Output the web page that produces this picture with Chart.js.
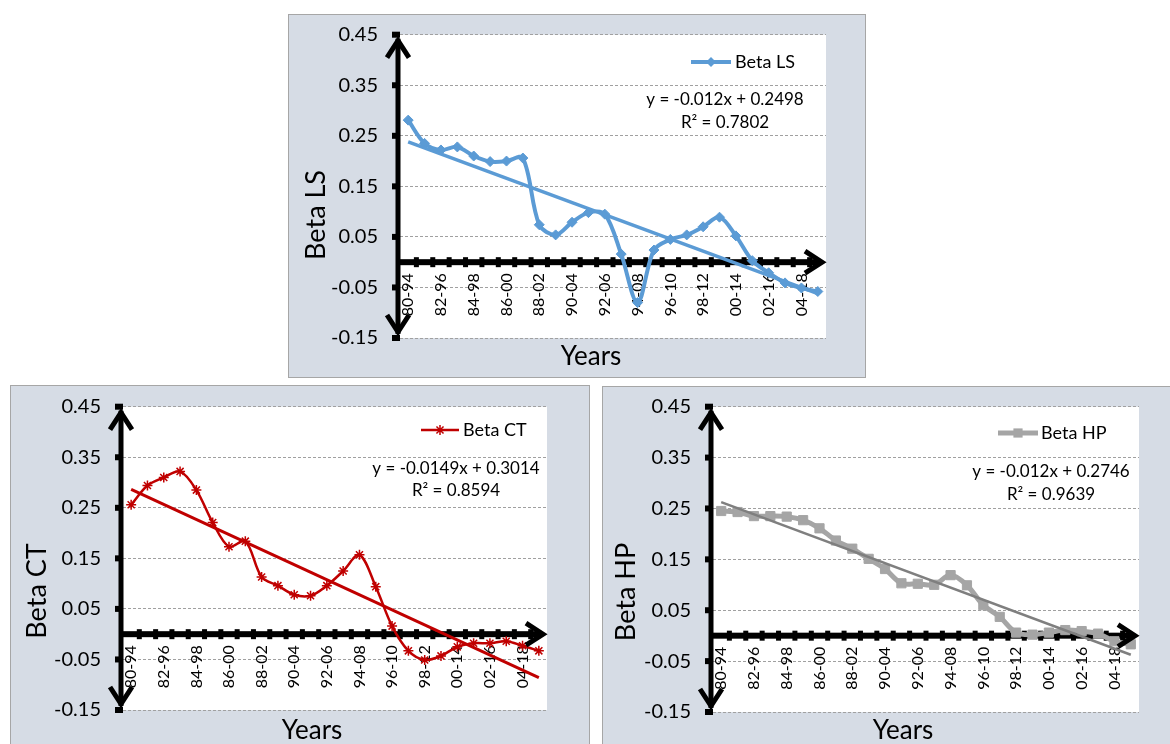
<!DOCTYPE html>
<html>
<head>
<meta charset="utf-8">
<script src="https://cdn.jsdelivr.net/npm/chart.js@4.4.0/dist/chart.umd.min.js"></script>
<style>
  html, body { margin: 0; padding: 0; background: #ffffff; width: 1170px; height: 744px; overflow: hidden; }
  .panel { position: absolute; background: #d6dce5; border: 1px solid #a6a6a6; box-sizing: border-box; }
  .panel canvas { position: absolute; left: -1px; top: -1px; }
</style>
</head>
<body>
<div class="panel" style="left:288px; top:14px; width:578px; height:364px;"><canvas id="cLS" width="578" height="364"></canvas></div>
<div class="panel" style="left:10px; top:385px; width:580px; height:365px;"><canvas id="cCT" width="580" height="365"></canvas></div>
<div class="panel" style="left:602px; top:386px; width:580px; height:365px;"><canvas id="cHP" width="580" height="365"></canvas></div>

<script>
// Rolling 15-year windows
const CATEGORIES = ['80-94','81-95','82-96','83-97','84-98','85-99','86-00','87-01','88-02','89-03',
                    '90-04','91-05','92-06','93-07','94-08','95-09','96-10','97-11','98-12','99-13',
                    '00-14','01-15','02-16','03-17','04-18','05-19'];

const Y_TICKS = [-0.15, -0.05, 0.05, 0.15, 0.25, 0.35, 0.45];

const BETA_LS = [0.281, 0.235, 0.222, 0.228, 0.210, 0.199, 0.200, 0.206, 0.074, 0.054,
                 0.079, 0.098, 0.095, 0.016, -0.080, 0.024, 0.045, 0.054, 0.070, 0.089,
                 0.052, 0.003, -0.021, -0.041, -0.051, -0.058];

const BETA_CT = [0.256, 0.294, 0.310, 0.322, 0.285, 0.221, 0.173, 0.184, 0.113, 0.096,
                 0.078, 0.076, 0.096, 0.125, 0.157, 0.094, 0.016, -0.033, -0.051, -0.043,
                 -0.025, -0.018, -0.018, -0.014, -0.023, -0.033];

const BETA_HP = [0.245, 0.243, 0.235, 0.235, 0.234, 0.227, 0.211, 0.187, 0.171, 0.151,
                 0.131, 0.103, 0.102, 0.100, 0.119, 0.099, 0.060, 0.037, 0.006, 0.002,
                 0.006, 0.011, 0.009, 0.004, -0.011, -0.017];

// Linear trendlines: [slope, intercept] with x = 1 .. 26, and their R²
const TREND_LS = [-0.012, 0.2498];
const TREND_CT = [-0.0149, 0.3014];
const TREND_HP = [-0.012, 0.2746];
const R2_LS = 0.7802;
const R2_CT = 0.8594;
const R2_HP = 0.9639;

Chart.defaults.font.family = 'Lato, "Open Sans", sans-serif';

function trendSeries(tr) {
  const n = CATEGORIES.length;
  return CATEGORIES.map((c, i) => (i === 0 || i === n - 1) ? tr[1] + tr[0] * (i + 1) : null);
}

function drawMarker(ctx, style, x, y, r, color) {
  ctx.save();
  ctx.fillStyle = color;
  ctx.strokeStyle = color;
  if (style === 'rectRot') {
    ctx.beginPath();
    ctx.moveTo(x, y - r); ctx.lineTo(x + r, y); ctx.lineTo(x, y + r); ctx.lineTo(x - r, y);
    ctx.closePath(); ctx.fill();
  } else if (style === 'rect') {
    const s = r * Math.SQRT1_2;
    ctx.fillRect(x - s, y - s, 2 * s, 2 * s);
  } else if (style === 'star') {
    ctx.lineWidth = 1.5;
    ctx.beginPath();
    for (let k = 0; k < 4; k++) {
      const a = k * Math.PI / 4;
      ctx.moveTo(x - r * Math.cos(a), y - r * Math.sin(a));
      ctx.lineTo(x + r * Math.cos(a), y + r * Math.sin(a));
    }
    ctx.stroke();
  }
  ctx.restore();
}

const PANELS = [
  { canvas: 'cLS', w: 578, h: 364, area: { left: 112, top: 20.7, right: 538, bottom: 324 },
    name: 'Beta LS', data: BETA_LS, trend: TREND_LS, r2: R2_LS,
    color: '#5b9bd5', lineWidth: 4, trendColor: '#5b9bd5', trendWidth: 3.5,
    marker: 'rectRot', markerRadius: 5,
    legend: { x0: 403, x1: 443, y: 48, tx: 447 }, eq: { x: 437, y: 86, y2: 109 },
    yTitle: { x: 28, y: 201 }, xTitle: { x: 303, y: 343 } },
  { canvas: 'cCT', w: 580, h: 365, area: { left: 113, top: 21.7, right: 537, bottom: 325 },
    name: 'Beta CT', data: BETA_CT, trend: TREND_CT, r2: R2_CT,
    color: '#c00000', lineWidth: 2.5, trendColor: '#c00000', trendWidth: 3,
    marker: 'star', markerRadius: 5,
    legend: { x0: 411, x1: 449, y: 45, tx: 453 }, eq: { x: 446, y: 84, y2: 106 },
    yTitle: { x: 27, y: 206 }, xTitle: { x: 302, y: 346 } },
  { canvas: 'cHP', w: 580, h: 365, area: { left: 111, top: 20.7, right: 537, bottom: 326 },
    name: 'Beta HP', data: BETA_HP, trend: TREND_HP, r2: R2_HP,
    color: '#a5a5a5', lineWidth: 5, trendColor: '#7f7f7f', trendWidth: 2.5,
    marker: 'rect', markerRadius: 6.5,
    legend: { x0: 396, x1: 436, y: 47, tx: 439 }, eq: { x: 449, y: 86, y2: 109 },
    yTitle: { x: 24, y: 206 }, xTitle: { x: 301, y: 345 } }
];

function makeChart(p) {
  const decor = {
    id: 'decor',
    beforeDraw(chart) {
      const { ctx, chartArea: a } = chart;
      ctx.save();
      ctx.fillStyle = '#ffffff';
      ctx.fillRect(a.left, a.top, a.right - a.left, a.bottom - a.top);
      ctx.restore();
    },
    beforeDatasetsDraw(chart) {
      const { ctx, chartArea: a } = chart;
      const xs = chart.scales.x, ys = chart.scales.y;
      const y0 = ys.getPixelForValue(0);
      const ax = a.left - 2;
      ctx.save();
      ctx.fillStyle = '#000000';
      // zero line with tick marks between categories
      ctx.fillRect(ax, y0 - 3, a.right - ax - 6, 6);
      const step = xs.getPixelForValue(1) - xs.getPixelForValue(0);
      for (let i = 1; i < CATEGORIES.length; i++) {
        const x = xs.getPixelForValue(i) - step / 2;
        ctx.fillRect(x - 2.5, y0 - 5, 5, 10);
      }
      // value axis and its tick marks
      Y_TICKS.forEach(v => {
        const y = ys.getPixelForValue(v);
        ctx.fillRect(ax - 6, y - 3, 8, 6);
      });
      ctx.fillRect(ax - 2.5, a.top + 4, 5, a.bottom - a.top - 8);
      ctx.restore();
    },
    afterDatasetsDraw(chart) {
      const { ctx, chartArea: a } = chart;
      const y0 = chart.scales.y.getPixelForValue(0);
      const ax = a.left - 2;
      ctx.save();
      ctx.strokeStyle = '#000000';
      ctx.lineWidth = 5;
      ctx.lineJoin = 'miter';
      ctx.lineCap = 'butt';
      ctx.beginPath();
      ctx.moveTo(ax - 11, a.top + 23); ctx.lineTo(ax, a.top + 6); ctx.lineTo(ax + 11, a.top + 23);
      ctx.stroke();
      ctx.beginPath();
      ctx.moveTo(ax - 11, a.bottom - 23); ctx.lineTo(ax, a.bottom - 6); ctx.lineTo(ax + 11, a.bottom - 23);
      ctx.stroke();
      ctx.beginPath();
      ctx.moveTo(a.right - 21, y0 - 11); ctx.lineTo(a.right - 4, y0); ctx.lineTo(a.right - 21, y0 + 11);
      ctx.stroke();
      ctx.restore();
    },
    afterDraw(chart) {
      const ctx = chart.ctx;
      ctx.save();
      // legend
      ctx.strokeStyle = p.color;
      ctx.lineWidth = p.lineWidth;
      ctx.beginPath();
      ctx.moveTo(p.legend.x0, p.legend.y); ctx.lineTo(p.legend.x1, p.legend.y);
      ctx.stroke();
      drawMarker(ctx, p.marker, (p.legend.x0 + p.legend.x1) / 2, p.legend.y, p.markerRadius, p.color);
      ctx.fillStyle = '#000000';
      ctx.font = '18px Lato';
      ctx.textAlign = 'left';
      ctx.textBaseline = 'middle';
      ctx.fillText(p.name, p.legend.tx, p.legend.y);
      // trendline equation
      ctx.font = '17px Lato';
      ctx.textAlign = 'center';
      ctx.fillText('y = ' + p.trend[0] + 'x + ' + p.trend[1], p.eq.x, p.eq.y);
      ctx.fillText('R\u00b2 = ' + p.r2, p.eq.x, p.eq.y2);
      // axis titles
      ctx.font = '26px Lato';
      ctx.fillText('Years', p.xTitle.x, p.xTitle.y);
      ctx.translate(p.yTitle.x, p.yTitle.y);
      ctx.rotate(-Math.PI / 2);
      ctx.font = '27px Lato';
      ctx.fillText(p.name, 0, 0);
      ctx.restore();
    }
  };

  return new Chart(document.getElementById(p.canvas), {
    type: 'line',
    data: {
      labels: CATEGORIES,
      datasets: [
        {
          label: p.name + ' trend',
          data: trendSeries(p.trend),
          borderColor: p.trendColor,
          borderWidth: p.trendWidth,
          pointRadius: 0,
          spanGaps: true,
          tension: 0
        },
        {
          label: p.name,
          data: p.data,
          borderColor: p.color,
          backgroundColor: p.color,
          borderWidth: p.lineWidth,
          pointStyle: p.marker,
          pointRadius: p.markerRadius,
          pointBorderWidth: p.marker === 'star' ? 1.5 : 1,
          pointBorderColor: p.color,
          pointBackgroundColor: p.color,
          tension: 0.33
        }
      ]
    },
    options: {
      responsive: false,
      animation: false,
      events: [],
      layout: { padding: { left: 0, top: p.area.top, right: p.w - p.area.right, bottom: p.h - p.area.bottom } },
      plugins: { legend: { display: false }, tooltip: { enabled: false }, title: { display: false } },
      scales: {
        x: {
          type: 'category',
          offset: true,
          position: { y: 0 },
          grid: { display: false, drawTicks: false, offset: true },
          border: { display: false },
          ticks: {
            autoSkip: false, minRotation: 90, maxRotation: 90, padding: 11,
            color: '#000000', font: { size: 16 },
            callback: (v, i) => (i % 2 === 0 ? CATEGORIES[i] : '')
          }
        },
        y: {
          min: -0.15, max: 0.45,
          afterBuildTicks: s => { s.ticks = Y_TICKS.map(v => ({ value: v })); },
          afterFit: s => { s.width = p.area.left; s.paddingTop = 0; s.paddingBottom = 0; },
          grid: { color: '#a0a0a0', lineWidth: 1, drawTicks: false },
          border: { display: false, dash: [3, 2] },
          ticks: { padding: 22, color: '#000000', font: { size: 20 }, callback: v => v.toFixed(2) }
        }
      }
    },
    plugins: [decor]
  });
}

PANELS.forEach(makeChart);
</script>
</body>
</html>
